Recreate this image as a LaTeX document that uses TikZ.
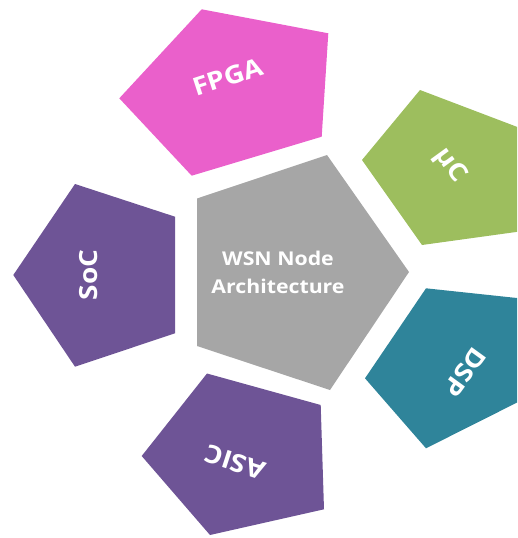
\documentclass[tikz,border=0pt]{standalone}
\usepackage{fontspec}
\newfontfamily\labelfont{Open Sans}[FakeStretch=1.12]
\definecolor{fpgafill}{HTML}{EA60CB}
\definecolor{mcfill}{HTML}{9DBE5E}
\definecolor{dspfill}{HTML}{2F849A}
\definecolor{purplefill}{HTML}{6E5496}
\definecolor{corefill}{HTML}{A6A6A6}
\tikzset{
  petal/.style={draw=none},
  lbl/.style={text=white, inner sep=0pt, font={\labelfont\bfseries\fontsize{25}{30}\selectfont}},
  corelbl/.style={text=white, inner sep=0pt, align=center,
    font={\labelfont\bfseries\fontsize{19}{28.5}\selectfont}}
}
\begin{document}
\begin{tikzpicture}[x=1pt,y=1pt]
\useasboundingbox (0,0) rectangle (517,-538);
\begin{scope}
  \clip (0,0) rectangle (517,-538);
  % central pentagon
  \fill[corefill] (327,-155) -- (409,-272) -- (330,-390) -- (197,-346) -- (197,-198.5) -- cycle;
  % FPGA
  \fill[fpgafill] (201.7,-9.3) -- (328.3,-33.3) -- (321.7,-136.7) -- (191.7,-175.7) -- (119.3,-98.3) -- cycle;
  % microcontroller
  \fill[mcfill] (420,-90) -- (545,-137.5) -- (545,-228) -- (422,-245) -- (362,-160) -- cycle;
  % DSP
  \fill[dspfill] (426,-288.3) -- (545,-301) -- (545,-388.5) -- (426,-448.3) -- (365,-378.3) -- cycle;
  % SoC
  \fill[purplefill] (75,-184) -- (175,-216.7) -- (175,-333.3) -- (75,-366.7) -- (13.3,-275) -- cycle;
  % ASIC
  \fill[purplefill] (207,-373.5) -- (320.7,-405) -- (324,-509.3) -- (210,-535) -- (141.7,-456) -- cycle;
\end{scope}
\node[corelbl] (core) at (278,-272.5) {WSN Node\\Architecture};
\node[lbl, rotate=18] (fpga) at (228,-77) {FPGA};
\node[lbl, rotate=-54] (mc) at (450,-166) {µC};
\node[lbl, rotate=-126] (dsp) at (465,-372) {DSP};
\node[lbl, rotate=90] (soc) at (89,-275) {SoC};
\node[lbl, rotate=162] (asic) at (235,-462) {ASIC};
\end{tikzpicture}
\end{document}
